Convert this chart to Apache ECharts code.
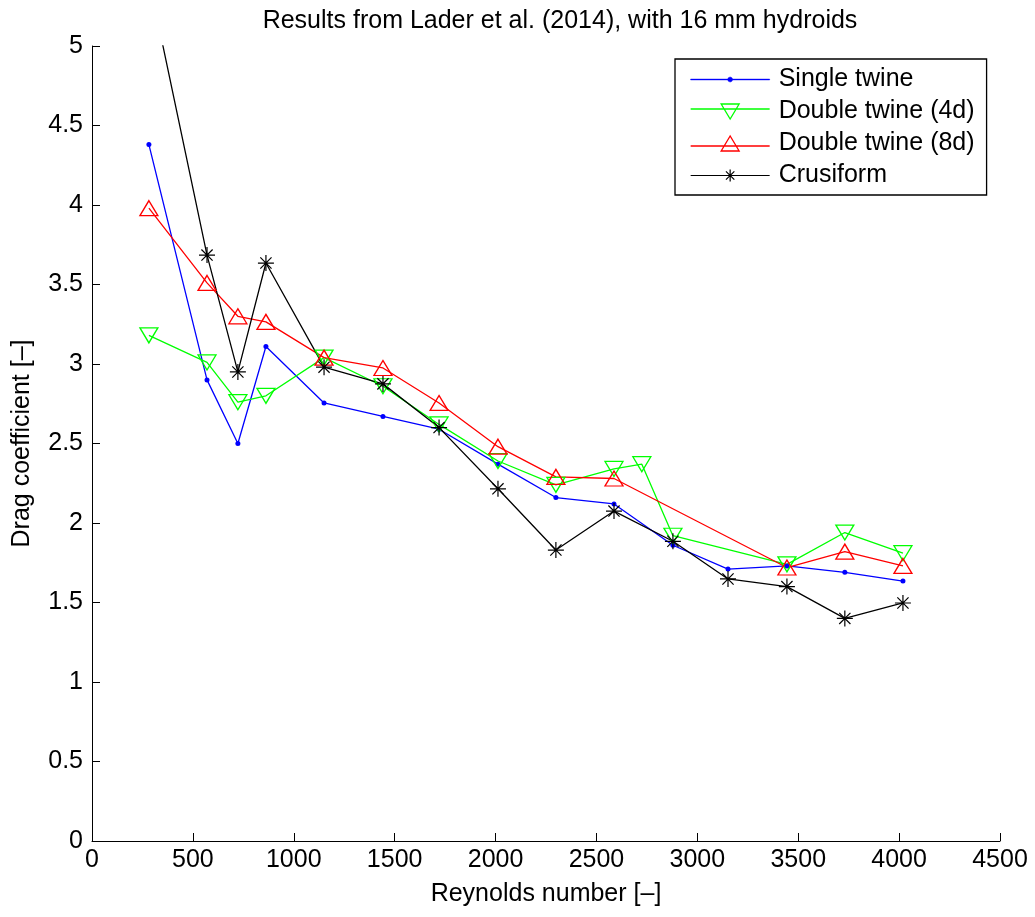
<!DOCTYPE html>
<html>
<head>
<meta charset="utf-8">
<script src="https://cdn.jsdelivr.net/npm/echarts@6/dist/echarts.min.js"></script>
<style>
  html, body { margin: 0; padding: 0; background: #fff; }
  #chart { width: 1035px; height: 917px; }
</style>
</head>
<body>
<div id="chart"></div>
<script>
// Reynolds numbers of the measurements
const reSingle = [282, 570, 723, 862, 1150, 1442, 1720, 2012, 2299, 2587, 2879, 3152, 3444, 3731, 4019];
const reDouble4d = [282, 570, 723, 862, 1150, 1442, 1720, 2012, 2299, 2587, 2725, 2879, 3444, 3731, 4019];
const reDouble8d = [282, 570, 723, 862, 1150, 1442, 1720, 2012, 2299, 2587, 3444, 3731, 4019];
const reCrusiform = [282, 570, 723, 862, 1150, 1442, 1720, 2012, 2299, 2587, 2879, 3152, 3444, 3731, 4019];

// drag coefficients
const cdSingle = [4.38, 2.90, 2.50, 3.11, 2.755, 2.67, 2.59, 2.37, 2.16, 2.12, 1.86, 1.71, 1.73, 1.69, 1.635];
const cdDouble4d = [3.18, 3.01, 2.76, 2.80, 3.04, 2.86, 2.62, 2.39, 2.24, 2.34, 2.37, 1.92, 1.74, 1.94, 1.81];
const cdDouble8d = [3.98, 3.51, 3.30, 3.265, 3.04, 2.975, 2.755, 2.48, 2.29, 2.28, 1.72, 1.82, 1.73];
const cdCrusiform = [5.42, 3.685, 2.95, 3.635, 2.98, 2.875, 2.60, 2.215, 1.83, 2.075, 1.885, 1.648, 1.60, 1.40, 1.497];

const seriesNames = ['Single twine', 'Double twine (4d)', 'Double twine (8d)', 'Crusiform'];

const FONT = '"Liberation Sans", Arial, Helvetica, sans-serif';
const FS = 25;
const starPath = 'path://M0,-1V1M-1,0H1M-0.7,-0.7L0.7,0.7M-0.7,0.7L0.7,-0.7';

function pairs(xs, ys) {
  return xs.map((x, i) => [x, ys[i]]);
}

const chart = echarts.init(document.getElementById('chart'));

var option = {
  backgroundColor: '#fff',
  animation: false,
  title: {
    text: 'Results from Lader et al. (2014), with 16 mm hydroids',
    left: 555,
    textAlign: 'center',
    top: 4,
    textStyle: { fontFamily: FONT, fontSize: FS, fontWeight: 'normal', color: '#000' }
  },
  grid: { left: 92, right: 35, top: 46, bottom: 76, outerBoundsMode: 'none' },
  legend: {
    orient: 'vertical',
    left: 675,
    top: 59,
    padding: [8, 12, 7, 15],
    borderColor: '#000',
    borderWidth: 1.3,
    backgroundColor: '#fff',
    itemWidth: 79,
    itemHeight: 16,
    itemGap: 7,
    symbolKeepAspect: true,
    textStyle: { fontFamily: FONT, fontSize: FS, color: '#000', lineHeight: 25, padding: [0, 0, 0, 4] },
    data: [
      { name: seriesNames[0],
        icon: 'path://M0,2.5H79V3.5H0Z M42.1,3L41.3,4.8L39.5,5.6L37.7,4.8L36.9,3L37.7,1.2L39.5,0.4L41.3,1.2Z',
        itemStyle: { color: '#0000ff', borderColor: '#0000ff', borderWidth: 0.4 } },
      { name: seriesNames[1],
        icon: 'path://M0,5H79M30.5,0H48.5L39.5,15Z',
        itemStyle: { color: 'rgba(0,0,0,0)', borderColor: '#00ff00', borderWidth: 1.3 } },
      { name: seriesNames[2],
        icon: 'path://M0,10H79M30.5,15H48.5L39.5,0Z',
        itemStyle: { color: 'rgba(0,0,0,0)', borderColor: '#ff0000', borderWidth: 1.3 } },
      { name: seriesNames[3],
        icon: 'path://M0,6H79M39.5,0V12M33.5,6H45.5M35.3,1.8L43.7,10.2M35.3,10.2L43.7,1.8',
        itemStyle: { color: 'rgba(0,0,0,0)', borderColor: '#000', borderWidth: 1.2 } }
    ]
  },
  xAxis: {
    type: 'value',
    min: 0,
    max: 4500,
    interval: 500,
    name: 'Reynolds number [–]',
    nameLocation: 'middle',
    nameGap: 41,
    nameTextStyle: { fontFamily: FONT, fontSize: FS, color: '#000' },
    axisLine: { show: true, onZero: false, lineStyle: { color: '#000', width: 1 } },
    axisTick: { show: true, inside: true, length: 8, lineStyle: { color: '#000' } },
    axisLabel: { fontFamily: FONT, fontSize: FS, color: '#000', margin: 7, formatter: v => String(v) },
    splitLine: { show: false }
  },
  yAxis: {
    type: 'value',
    min: 0,
    max: 5,
    interval: 0.5,
    name: 'Drag coefficient [–]',
    nameLocation: 'middle',
    nameGap: 57,
    nameTextStyle: { fontFamily: FONT, fontSize: FS, color: '#000' },
    axisLine: { show: true, onZero: false, lineStyle: { color: '#000', width: 1 } },
    axisTick: { show: true, inside: true, length: 8, lineStyle: { color: '#000' } },
    axisLabel: { fontFamily: FONT, fontSize: FS, color: '#000', margin: 9 },
    splitLine: { show: false }
  },
  series: [
    {
      name: seriesNames[0],
      type: 'line',
      data: pairs(reSingle, cdSingle),
      symbol: 'circle',
      symbolSize: 5,
      itemStyle: { color: '#0000ff' },
      lineStyle: { color: '#0000ff', width: 1.3 }
    },
    {
      name: seriesNames[1],
      type: 'line',
      data: pairs(reDouble4d, cdDouble4d),
      symbol: 'triangle',
      symbolRotate: 180,
      symbolSize: [18, 15],
      itemStyle: { color: 'rgba(0,0,0,0)', borderColor: '#00ff00', borderWidth: 1.3 },
      lineStyle: { color: '#00ff00', width: 1.3 }
    },
    {
      name: seriesNames[2],
      type: 'line',
      data: pairs(reDouble8d, cdDouble8d),
      symbol: 'triangle',
      symbolSize: [18, 15],
      itemStyle: { color: 'rgba(0,0,0,0)', borderColor: '#ff0000', borderWidth: 1.3 },
      lineStyle: { color: '#ff0000', width: 1.3 }
    },
    {
      name: seriesNames[3],
      type: 'line',
      data: pairs(reCrusiform, cdCrusiform),
      symbol: starPath,
      symbolSize: 16,
      itemStyle: { color: 'rgba(0,0,0,0)', borderColor: '#000', borderWidth: 1.2 },
      lineStyle: { color: '#000', width: 1.3 }
    }
  ]
};

option && chart.setOption(option);
window.addEventListener('resize', chart.resize);
</script>
</body>
</html>
